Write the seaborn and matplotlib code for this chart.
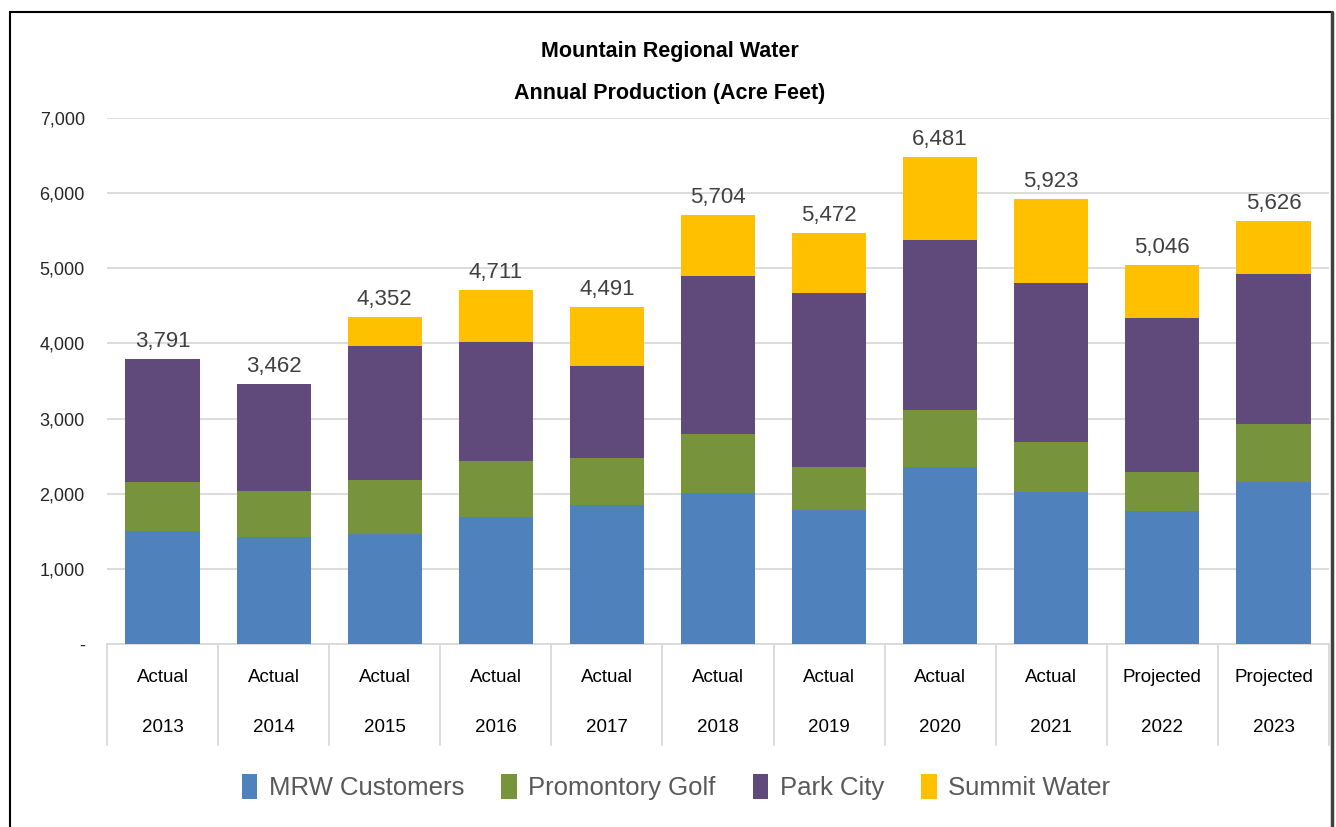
import numpy as np
import pandas as pd
import matplotlib
matplotlib.use('Agg')
import matplotlib.pyplot as plt
from matplotlib import font_manager
from matplotlib.patches import Patch
import seaborn as sns

# данные по годам (акро-футы)
years = ['2013', '2014', '2015', '2016', '2017', '2018', '2019', '2020', '2021', '2022', '2023']
status = ['Actual'] * 9 + ['Projected'] * 2
mrw_customers = [1508, 1418, 1466, 1689, 1855, 2012, 1789, 2349, 2017, 1770, 2159]
promontory_golf = [642, 622, 722, 746, 622, 779, 565, 770, 665, 522, 765]
park_city = [1641, 1422, 1772, 1586, 1221, 2105, 2314, 2256, 2128, 2048, 1995]
summit_water = [0, 0, 392, 690, 793, 808, 804, 1106, 1113, 706, 707]

series_names = ['MRW Customers', 'Promontory Golf', 'Park City', 'Summit Water']
colors = ['#4F81BD', '#77933C', '#604A7B', '#FFC000']

df = pd.DataFrame({
    'year': years,
    'MRW Customers': mrw_customers,
    'Promontory Golf': promontory_golf,
    'Park City': park_city,
    'Summit Water': summit_water,
})
cum = df[series_names].cumsum(axis=1)

sns.set_theme(style='white')
names = {f.name for f in font_manager.fontManager.ttflist}
base_font = 'Liberation Sans Narrow' if 'Liberation Sans Narrow' in names else 'Liberation Sans'
plt.rcParams['font.family'] = [base_font, 'DejaVu Sans']

fig = plt.figure(figsize=(13.36, 8.27), dpi=100)
ax = fig.add_axes([107 / 1336, 1 - 644 / 827, (1329 - 107) / 1336, (644 - 118) / 827])

# стек: рисуем накопленные суммы сверху вниз
for name, color in zip(series_names[::-1], colors[::-1]):
    sns.barplot(x=df['year'], y=cum[name], color=color, saturation=1,
                width=0.667, ax=ax, zorder=3, linewidth=0)

ax.bar_label(ax.containers[0], fmt='{:,.0f}', padding=5, fontsize=16, color='#404040')

ax.set_ylim(0, 7000)
ax.set_xlim(-0.5, len(years) - 0.5)
ax.set_yticks(range(0, 7001, 1000))
ax.set_yticklabels(['-'] + [f'{v:,}' for v in range(1000, 7001, 1000)], fontsize=13, color='#262626')
ax.tick_params(axis='y', length=0, pad=16)
ax.tick_params(axis='x', length=0)
ax.set_xticklabels([])
ax.set_xlabel('')
ax.set_ylabel('')
ax.yaxis.grid(True, color='#D9D9D9', linewidth=1.3, zorder=0)
ax.xaxis.grid(False)
for s in ['top', 'right', 'left']:
    ax.spines[s].set_visible(False)
ax.spines['bottom'].set_color('#D9D9D9')
ax.spines['bottom'].set_linewidth(1.3)

# подписи категорий в две строки и разделители
trans = ax.get_xaxis_transform()
for i, (st, yr) in enumerate(zip(status, years)):
    ax.text(i, -34 / 526, st, transform=trans, ha='center', va='center', fontsize=13.5, color='black')
    ax.text(i, -83 / 526, yr, transform=trans, ha='center', va='center', fontsize=13.5, color='black')
for i in range(len(years) + 1):
    ax.plot([i - 0.5, i - 0.5], [0, -101 / 526], transform=trans, color='#D9D9D9',
            linewidth=1.3, clip_on=False)

fig.text(670 / 1336, 1 - 51 / 827, 'Mountain Regional Water', ha='center', va='center',
         fontsize=15.5, fontweight='bold', color='black')
fig.text(670 / 1336, 1 - 93 / 827, 'Annual Production (Acre Feet)', ha='center', va='center',
         fontsize=15.5, fontweight='bold', color='black')

handles = [Patch(facecolor=c, edgecolor='none') for c in colors]
leg = fig.legend(handles, series_names, loc='center', bbox_to_anchor=(676 / 1336, 1 - 787 / 827),
                 ncol=4, frameon=False, fontsize=18.5, handlelength=0.6, handleheight=1.15,
                 handletextpad=0.45, columnspacing=1.45)
for t in leg.get_texts():
    t.set_color('#595959')

# рамка вокруг диаграммы
fig.add_artist(plt.Line2D([10 / 1336, 10 / 1336], [0, 1 - 12 / 827], color='black', linewidth=1.5))
fig.add_artist(plt.Line2D([10 / 1336, 1332 / 1336], [1 - 12 / 827, 1 - 12 / 827], color='black', linewidth=1.5))
fig.add_artist(plt.Line2D([1332 / 1336, 1332 / 1336], [0, 1 - 12 / 827], color='#404040', linewidth=2.5))

fig.savefig('out.png', dpi=100, facecolor='white')
